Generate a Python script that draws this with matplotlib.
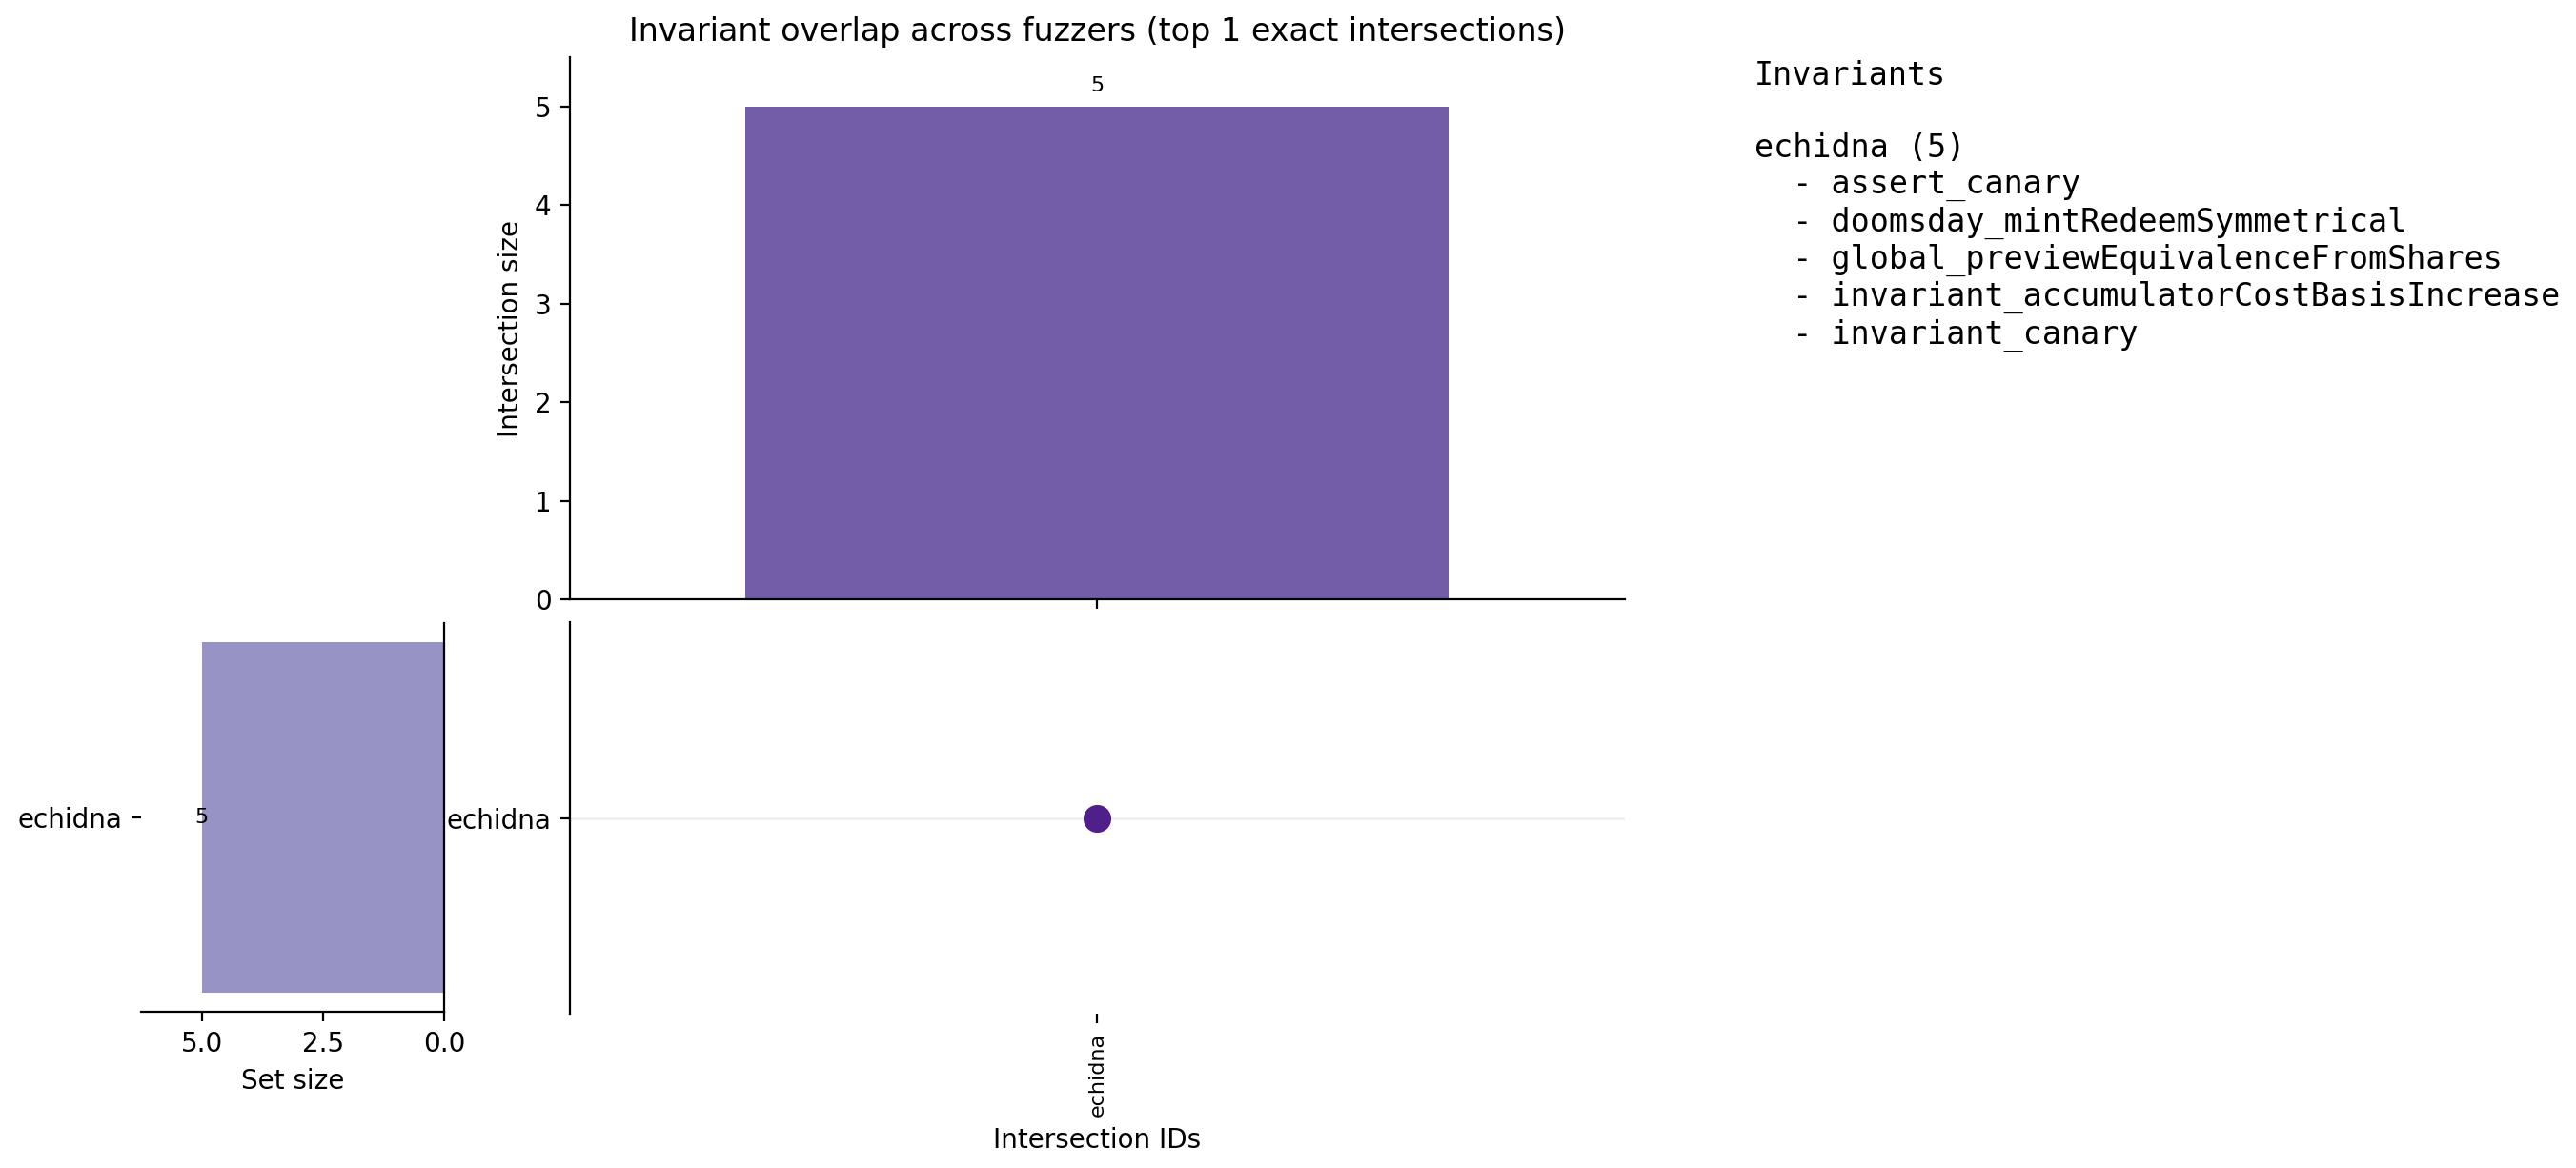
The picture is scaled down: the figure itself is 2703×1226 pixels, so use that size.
import matplotlib
matplotlib.use("Agg")
import matplotlib.pyplot as plt
import numpy as np

# data
fuzzers = ["echidna"]
set_sizes = [5]
inter_ids = ["echidna"]
inter_sizes = [5]
inter_members = [["echidna"]]
invariants = {
    "echidna": [
        "assert_canary",
        "doomsday_mintRedeemSymmetrical",
        "global_previewEquivalenceFromShares",
        "invariant_accumulatorCostBasisIncrease",
        "invariant_canary",
    ],
}

bar_col = "#725da8"
set_col = "#9793c4"
dot_col = "#4f2089"

fig = plt.figure(figsize=(13.515, 6.13), dpi=200)
ax_top = fig.add_axes([0.2212, 0.4869, 0.4095, 0.4641])
ax_mat = fig.add_axes([0.2212, 0.1321, 0.4095, 0.3352])
ax_set = fig.add_axes([0.0548, 0.1337, 0.1176, 0.3329])

# intersection sizes
x = np.arange(len(inter_ids))
ymax = max(inter_sizes) * 1.1
ax_top.bar(x, inter_sizes, width=0.8, color=bar_col)
for i, v in enumerate(inter_sizes):
    ax_top.text(i, v + ymax * 0.02, str(v), ha="center", va="bottom", fontsize=8)
ax_top.set_xlim(-0.6, len(x) - 0.4)
ax_top.set_ylim(0, ymax)
ax_top.set_xticks(x)
ax_top.set_xticklabels([])
ax_top.set_ylabel("Intersection size")
ax_top.set_title("Invariant overlap across fuzzers (top 1 exact intersections)")
for s in ("top", "right"):
    ax_top.spines[s].set_visible(False)

# membership matrix
yy = np.arange(len(fuzzers))
for j in yy:
    ax_mat.axhline(j, color="#f0f0f0", lw=1, zorder=0)
for i, members in enumerate(inter_members):
    ys = [fuzzers.index(m) for m in members]
    ax_mat.scatter([i] * len(ys), ys, s=90, color=dot_col, zorder=3)
    if len(ys) > 1:
        ax_mat.plot([i, i], [min(ys), max(ys)], color=dot_col, lw=2, zorder=2)
ax_mat.set_xlim(-0.6, len(x) - 0.4)
ax_mat.set_ylim(-0.5, len(fuzzers) - 0.5)
ax_mat.set_xticks(x)
ax_mat.set_xticklabels(inter_ids, rotation=90, fontsize=8)
ax_mat.set_yticks(yy)
ax_mat.set_yticklabels(fuzzers)
ax_mat.set_xlabel("Intersection IDs")
for s in ("top", "right", "bottom"):
    ax_mat.spines[s].set_visible(False)

# set sizes
ax_set.barh(yy, set_sizes, height=0.9, color=set_col)
for j, v in enumerate(set_sizes):
    ax_set.text(v, j, str(v), ha="center", va="center", fontsize=8)
ax_set.set_xlim(max(set_sizes) * 1.25, 0)
ax_set.set_ylim(-0.5, len(fuzzers) - 0.5)
ax_set.set_yticks(yy)
ax_set.set_yticklabels(fuzzers)
ax_set.set_xlabel("Set size")
for s in ("top", "left"):
    ax_set.spines[s].set_visible(False)

# invariant listing
lines = ["Invariants", ""]
for name, invs in invariants.items():
    lines.append(f"{name} ({len(invs)})")
    lines += [f"  - {s}" for s in invs]
fig.text(0.681, 0.949, "\n".join(lines), ha="left", va="top",
         family="monospace", fontsize=12)

fig.savefig("out.png", dpi=200)
